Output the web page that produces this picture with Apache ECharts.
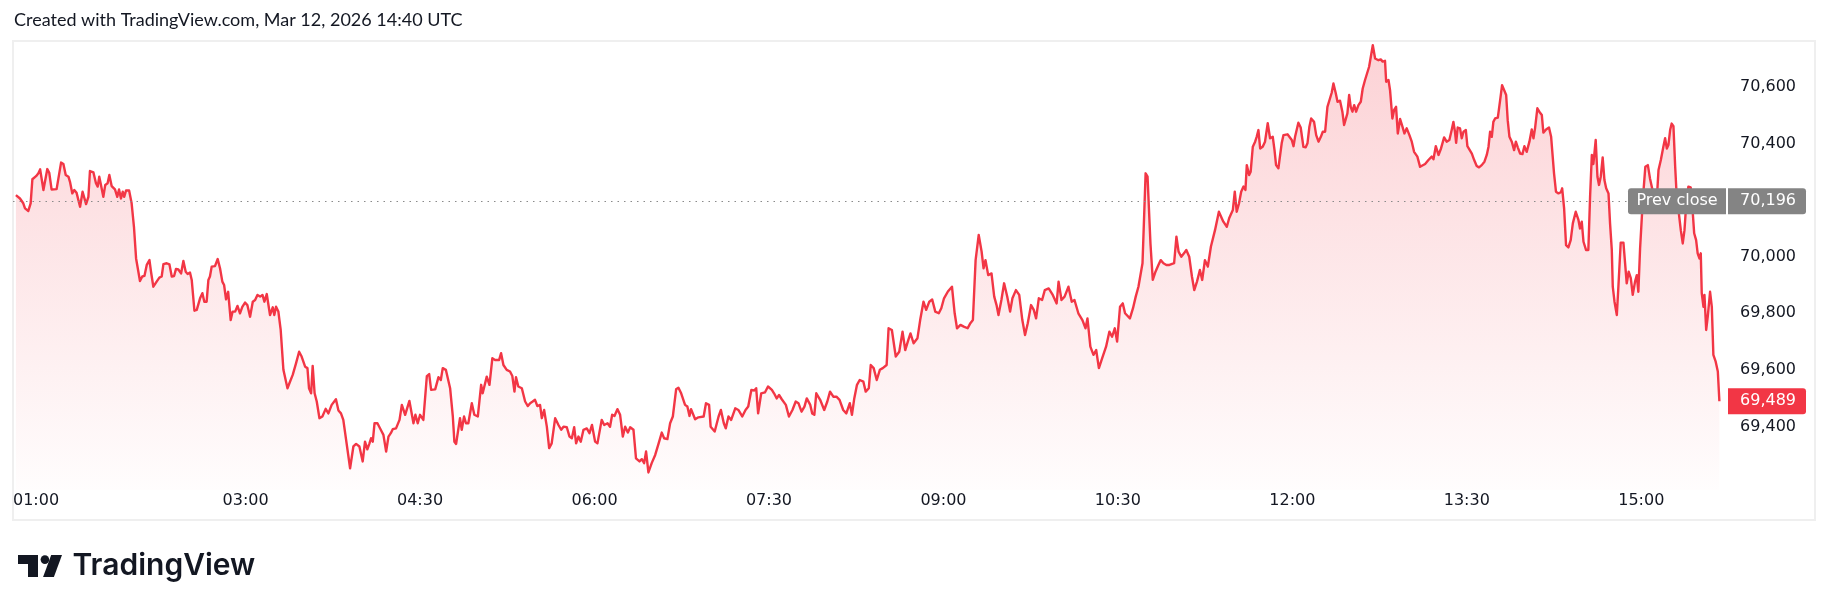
<!DOCTYPE html>
<html>
<head>
<meta charset="utf-8">
<script src="https://cdn.jsdelivr.net/npm/echarts@6/dist/echarts.min.js"></script>
<style>
html,body{margin:0;padding:0;background:#ffffff;}
#chart{width:1830px;height:611px;}
</style>
</head>
<body>
<div id="chart"></div>
<script>
// ---------- DATA ----------
const sessionStart = '01:00';           // x axis origin (minutes are counted from here)
const titleText = 'Created with TradingView.com, Mar 12, 2026 14:40 UTC';
const brandText = 'TradingView';
const prevCloseLabel = 'Prev close';
const prevClose = 70196;

// minutes after 01:00 / price, in segments
const minutesA = [1.5,3.6,5.3,6.2,7.9,9.1,10.0,11.9,13.1,14.0,15.7,16.5,17.7,18.7,19.9,22.5,24.8,26.0,27.2,28.6,29.4,30.6,31.6,32.8,34.6,35.9,37.7,38.9,39.7,41.5,42.8,43.7,44.5,45.2,46.6,47.6,48.8,49.7,50.9,52.6,53.8,54.7,55.7,56.6,57.4,58.3,59.9,61.2,62.4,63.5,64.2,65.5,66.7,67.8,69.0,70.4,71.2,72.4,74.1,75.5,76.7,77.6,79.3,80.7,81.9,83.1,84.1,85.3,86.7,87.9,89.1,90.1,91.3,92.2,93.6,94.8,96.5,97.7,98.7,99.9,100.8,101.6,102.5,104.2,105.6,106.8,108.0,108.9,109.9,111.0,112.3,113.3,114.6,115.8,117.1,118.3,119.7,120.9,122.3,123.7,124.9,126.1,127.5,128.7,129.7,130.9,132.6,134.0,134.8,135.7,136.9,138.1,139.5,141.6,142.9,144.3,146.0,147.6,148.9,150.7,151.9,152.7,153.8,154.6,155.6,156.7,158.1,159.6,161.3,162.7,164.4,166.6,167.9,169.2,170.4];
const pricesA = [70218,70206,70189,70171,70162,70189,70274,70285,70295,70309,70236,70242,70310,70297,70238,70239,70333,70328,70289,70283,70265,70224,70236,70226,70177,70230,70186,70212,70303,70298,70260,70248,70283,70260,70212,70254,70260,70289,70250,70238,70212,70238,70206,70230,70212,70234,70234,70189,70106,69994,69988,69914,69930,69932,69971,69988,69947,69894,69912,69926,69930,69974,69977,69973,69930,69932,69957,69955,69941,69985,69947,69939,69944,69918,69809,69812,69853,69871,69841,69841,69918,69930,69965,69967,69992,69959,69912,69900,69849,69876,69776,69806,69806,69826,69800,69823,69838,69829,69788,69841,69847,69865,69859,69865,69841,69868,69794,69821,69794,69823,69806,69741,69600,69535,69558,69582,69623,69664,69647,69611,69606,69535,69517,69614,69517,69488,69429,69435,69462,69446,69476,69496,69456,69446,69423];

const minutesB = [173.9,175.6,177.0,178.7,180.4,181.6,182.8,183.9,184.7,185.6,186.5,188.0,190.2,191.1,192.5,193.7,194.9,195.9,197.6,199.4,200.6,202.3,204.5,206.6,207.6,208.8,210.0,211.7,213.5,214.7,215.7,217.8,219.5,220.7,221.7,223.3,225.5,226.9,227.7,228.6,230.6,231.5,232.7,233.7,234.9,236.7,238.0,239.8,241.5,242.3,244.4,245.8,247.3,248.7,249.6,250.8,251.8,253.0,254.7,256.4,257.6,258.7,259.5,260.7,262.5,264.2,265.6,266.8,268.1,269.3,270.5,271.9,272.8,274.0,275.4,276.6,277.9,279.7,281.4,282.8,284.0,285.7,287.1,288.3,289.5,290.5,291.7,292.9,294.3,296.0,297.4,298.7,300.3,301.5,303.7,305.0,306.7,308.0,309.1,310.3,311.8,313.2,314.6,315.8,317.2,318.4,320.1,321.4,323.2,324.4,325.6,326.6,327.8,329.5,331.3,333.0,334.7,335.9,337.6,339.0,340.4,342.1,343.3,344.7,346.7,347.9,349.0,349.8,351.9,353.6];
const pricesB = [69252,69329,69338,69329,69276,69346,69319,69340,69358,69346,69411,69411,69382,69370,69311,69364,69376,69390,69393,69423,69476,69441,69490,69411,69441,69411,69441,69423,69578,69585,69529,69531,69574,69564,69606,69600,69535,69435,69346,69338,69429,69388,69435,69411,69411,69482,69441,69435,69547,69517,69576,69547,69641,69635,69641,69635,69659,69617,69600,69594,69578,69523,69574,69541,69535,69488,69472,69482,69488,69494,69472,69476,69429,69458,69399,69323,69340,69429,69405,69388,69399,69397,69364,69358,69397,69340,69364,69346,69388,69393,69376,69405,69346,69340,69423,69405,69411,69399,69441,69437,69461,69441,69364,69399,69378,69397,69388,69287,69276,69284,69270,69311,69237,69270,69299,69338,69378,69358,69355,69411,69435,69531,69537,69517,69476,69470,69437,69461,69425,69432];

const minutesC = [356.3,357.5,359.1,359.9,362.0,364.0,365.2,366.7,367.7,369.1,370.5,372.6,374.2,376.2,377.9,379.3,380.9,382.4,383.4,384.4,386.0,387.9,389.5,391.5,392.6,394.0,395.2,396.6,398.7,400.3,402.1,403.8,405.2,406.8,408.3,409.5,411.3,412.3,413.4,414.4,416.4,418.5,420.1,421.5,423.2,424.8,426.4,428.3,429.9,431.7,432.8,434.0,435.4,436.8,438.7,439.9,441.5,442.5,444.0,445.6,447.2,448.7,450.7,451.7,453.4,454.2,455.4,457.2,458.9,460.3,461.9,463.0,464.6,466.6,468.0,469.7,471.1,472.7,474.2,475.8,477.6,478.9,480.3,482.3,484.4,485.8,487.0,488.8,490.5,492.5,493.9,495.2,496.6,498.2,499.7,500.7,501.7,503.1,504.8,506.2,507.4,508.4,509.9,511.3,512.9,514.4,515.6,517.4,519.1,520.7,522.1,523.5,525.2,526.6,527.8,529.2,530.9,532.3,534.3,536.4,538.4,539.4,540.9,542.5,544.5,546.2,547.6,549.6,551.7,553.3,554.3,555.8,557.4,558.8,560.2,561.9,563.9,565.6,567.0,568.4,569.6,571.1,572.5,573.7,576.2,577.8,579.2,580.6,582.7,584.3,585.3,586.8,588.0,589.4,590.9,592.1,593.5,595.0,596.6,599.0,600.2,601.3,602.7,604.1,605.3,606.8,608.2,609.4,610.8,612.3,613.5,614.9,616.4,618.0,620.1,622.1];
const pricesC = [69435,69482,69476,69399,69382,69435,69458,69411,69393,69435,69423,69464,69458,69435,69458,69470,69529,69527,69535,69446,69517,69520,69541,69529,69517,69499,69511,69496,69476,69435,69458,69488,69482,69452,69470,69499,69476,69446,69441,69517,69494,69458,69488,69523,69505,69505,69494,69458,69446,69482,69441,69499,69547,69564,69558,69523,69535,69617,69606,69564,69600,69606,69617,69747,69741,69743,69647,69664,69735,69670,69706,69729,69694,69712,69776,69841,69812,69841,69849,69806,69800,69818,69853,69877,69894,69800,69747,69759,69753,69747,69765,69776,69988,70077,70018,69959,69988,69935,69941,69859,69829,69794,69847,69906,69859,69806,69853,69882,69865,69776,69723,69765,69829,69812,69782,69853,69847,69882,69888,69865,69835,69912,69847,69859,69894,69841,69847,69800,69776,69747,69782,69682,69653,69670,69606,69641,69682,69735,69717,69747,69700,69823,69835,69800,69782,69818,69859,69894,69977,70295,70283,70047,69918,69947,69971,69988,69977,69971,69971,69977,70071,70018,70000,70012,70024,70000,69930,69882,69912,69953,69918,69988,69965,70036,70094,70159];

const minutesD = [622.7,624.4,626.2,627.4,628.4,629.3,630.3,631.3,632.5,633.6,634.8,635.8,636.5,637.7,638.5,639.6,640.8,641.6,642.5,643.4,644.7,645.9,647.3,648.5,649.9,650.8,651.6,652.8,653.7,654.5,655.4,656.3,657.5,658.5,659.7,660.6,661.4,662.3,663.1,664.3,665.7,666.9,667.8,668.8,669.7,670.5,671.2,672.3,673.5,674.7,675.7,676.9,678.1,679.1,680.3,681.2,682.4,683.3,684.6,685.8,686.7,687.7,688.4,689.3,690.1,691.0,691.9,692.9,694.1,695.3,696.3,697.5,698.4,699.6];
const pricesD = [70153,70124,70106,70136,70130,70165,70230,70159,70189,70230,70248,70236,70324,70289,70301,70389,70407,70424,70448,70383,70389,70407,70472,70419,70424,70377,70324,70313,70318,70401,70430,70433,70433,70439,70413,70391,70424,70419,70474,70457,70389,70387,70401,70460,70489,70495,70477,70430,70407,70424,70442,70442,70530,70530,70580,70613,70578,70548,70552,70513,70466,70462,70507,70572,70530,70513,70536,70513,70536,70548,70595,70625,70631,70672];

const minutesE = [700.1,701.5,702.7,704.4,705.6,706.6,707.8,708.4,709.6,710.4,711.6,712.5,713.5,714.4,715.6,716.8,717.8,719.0,720.4,721.6,722.8,724.5,725.9,726.8,728.5,730.2,731.9,732.8,734.0,735.4,736.7,738.3,739.6,741.0,742.2,743.1,743.9,744.5,745.3,746.5,747.4,748.3,749.5,750.3,751.3,752.6,753.8,755.1,756.3,757.7,759.1,760.3,761.2,762.0,762.9,763.7,764.6,766.0,767.2,768.2,769.2,770.3,771.1,772.0,773.2,774.4,775.3,776.3,777.5,778.7,779.7,780.9,782.3,783.5,784.4,785.2,786.4,787.8,788.7,789.5,790.9,792.4,793.5,794.3,795.0,796.0,797.3,798.5,799.2,800.2,801.2,802.4,803.6,804.7,806.2,807.6,808.4,809.3,810.2,811.5,812.7,813.6,814.5,815.3,816.5,817.4,818.2,819.1,820.1,821.0,821.9,823.1,823.9,824.8,825.3,826.2,827.4,828.2,829.4,830.8,831.8,832.5,833.5,834.6,835.6,836.8,837.7,838.5,839.4,840.8,842.1,843.4,844.5,845.8,846.6,848.0,848.9,850.1,851.4,852.3,853.2,854.0,854.9,855.7,856.6,857.5,858.3,859.2,860.4,861.4,862.3,863.1,864.3,865.5,866.6,867.3,868.3,869.1,870.0,870.7,871.2,872.1,872.6,873.5,874.3,875.5,876.4,877.2,878.4,879.5,880.3];
const pricesE = [70678,70748,70701,70695,70698,70690,70693,70619,70625,70589,70489,70519,70530,70436,70487,70460,70436,70454,70430,70407,70371,70354,70318,70312,70328,70342,70354,70345,70391,70360,70383,70422,70407,70413,70448,70477,70442,70403,70457,70454,70419,70442,70448,70391,70387,70365,70342,70321,70316,70324,70336,70360,70389,70442,70424,70477,70489,70492,70554,70607,70611,70572,70483,70424,70407,70377,70407,70387,70365,70363,70391,70371,70407,70450,70419,70454,70525,70509,70501,70439,70450,70457,70424,70427,70295,70230,70224,70228,70242,70171,70041,70033,70059,70118,70159,70130,70100,70124,70053,70024,70024,70212,70360,70328,70413,70283,70254,70283,70351,70271,70242,70224,70118,70024,69894,69841,69794,69894,70050,70050,70047,69906,69947,69924,69865,69912,69935,69876,70030,70201,70318,70324,70277,70236,70195,70201,70307,70342,70389,70419,70383,70395,70448,70471,70462,70318,70212,70165,70094,70047,70094,70177,70248,70245,70153,70083,70059,70012,69994,70012,69871,69823,69865,69741,69788,69876,69823,69653,69629,69594,69489];

// axis ticks
const xTickMinutes = [0, 120, 210, 300, 390, 480, 570, 660, 750, 840];
const yTickValues = [69400, 69600, 69800, 70000, 70400, 70600];

// ---------- BUILD ----------
const minutes = [].concat(minutesA, minutesB, minutesC, minutesD, minutesE);
const prices = [].concat(pricesA, pricesB, pricesC, pricesD, pricesE);
const seriesData = minutes.map((m, i) => [m, prices[i]]);
const lastPrice = prices[prices.length - 1];

const startMin = parseInt(sessionStart.split(':')[0], 10) * 60 + parseInt(sessionStart.split(':')[1], 10);
function fmtTime(t) {
  const m = Math.round(startMin + t);
  const h = Math.floor(m / 60) % 24, mm = m % 60;
  return String(h).padStart(2, '0') + ':' + String(mm).padStart(2, '0');
}
const fmtPrice = v => Math.round(v).toLocaleString('en-US');

const RED = '#f23645';
const INK = '#131722';
const AXIS_FONT = 'DejaVu Sans';

const chart = echarts.init(document.getElementById('chart'), null, { renderer: 'canvas' });

chart.setOption({
  animation: false,
  backgroundColor: '#ffffff',
  grid: { left: 13, top: 41, width: 1712, height: 449, containLabel: false },
  xAxis: {
    type: 'value', min: 0, max: 883.2,
    axisLine: { show: false }, axisTick: { show: false }, splitLine: { show: false },
    axisLabel: {
      customValues: xTickMinutes,
      formatter: fmtTime,
      fontFamily: AXIS_FONT, fontSize: 16, color: INK,
      margin: 11, verticalAlign: 'middle', alignMinLabel: 'left'
    }
  },
  yAxis: {
    type: 'value', position: 'right', min: 69175, max: 70763, scale: true,
    axisLine: { show: false }, axisTick: { show: false }, splitLine: { show: false },
    axisLabel: {
      customValues: yTickValues,
      formatter: fmtPrice,
      fontFamily: AXIS_FONT, fontSize: 16, color: INK,
      align: 'right', margin: 71
    }
  },
  series: [{
    type: 'line',
    data: seriesData,
    showSymbol: false,
    symbol: 'none',
    sampling: null,
    lineStyle: { color: RED, width: 2.4, join: 'round' },
    itemStyle: { color: RED },
    areaStyle: {
      color: new echarts.graphic.LinearGradient(0, 0, 0, 1, [
        { offset: 0, color: 'rgba(242,54,69,0.32)' },
        { offset: 1, color: 'rgba(242,54,69,0.015)' }
      ])
    },
    markLine: {
      silent: true, symbol: 'none', animation: false,
      label: { show: false },
      lineStyle: { color: '#8a8a8a', type: [1.5, 5], width: 1 },
      data: [{ yAxis: prevClose }]
    }
  }]
});

// price tags and frame (positions of the tags come from the y axis)
const yPrev = chart.convertToPixel({ yAxisIndex: 0 }, prevClose);
const yLast = chart.convertToPixel({ yAxisIndex: 0 }, lastPrice);
const TAG_H = 26;
const labelFont = '16px "DejaVu Sans"';

chart.setOption({
  graphic: [
    { type: 'text', left: 14, top: 11, z: 10,
      style: { text: titleText, font: '18px Lato', fill: INK } },
    { type: 'rect', z: 0, silent: true,
      shape: { x: 13, y: 41, width: 1802, height: 479 },
      style: { fill: 'none', stroke: '#efefef', lineWidth: 2 } },
    // prev close tag
    { type: 'rect', z: 20, shape: { x: 1628, y: yPrev - TAG_H / 2, width: 98, height: TAG_H, r: [3, 0, 0, 3] },
      style: { fill: '#848484' } },
    { type: 'text', z: 21, x: 1677, y: yPrev,
      style: { text: prevCloseLabel, font: labelFont, fill: '#ffffff', align: 'center', verticalAlign: 'middle' } },
    { type: 'rect', z: 20, shape: { x: 1728, y: yPrev - TAG_H / 2, width: 78, height: TAG_H, r: [0, 3, 3, 0] },
      style: { fill: '#848484' } },
    { type: 'text', z: 21, x: 1796, y: yPrev,
      style: { text: fmtPrice(prevClose), font: labelFont, fill: '#ffffff', align: 'right', verticalAlign: 'middle' } },
    // last price tag
    { type: 'rect', z: 20, shape: { x: 1728, y: yLast - TAG_H / 2, width: 78, height: TAG_H, r: [0, 3, 3, 0] },
      style: { fill: RED } },
    { type: 'text', z: 21, x: 1796, y: yLast,
      style: { text: fmtPrice(lastPrice), font: labelFont, fill: '#ffffff', align: 'right', verticalAlign: 'middle' } },
    // TradingView brand
    { type: 'rect', z: 10, shape: { x: 18, y: 555, width: 20, height: 9 }, style: { fill: INK } },
    { type: 'rect', z: 10, shape: { x: 28, y: 555, width: 10, height: 22 }, style: { fill: INK } },
    { type: 'circle', z: 10, shape: { cx: 44.9, cy: 559.6, r: 4.3 }, style: { fill: INK } },
    { type: 'polygon', z: 10, shape: { points: [[51.2, 555], [62, 555], [53.9, 577], [43.1, 577]] }, style: { fill: INK } },
    { type: 'text', z: 10, x: 72.5, y: 566,
      style: { text: brandText, font: '600 30px Inter', fill: INK, verticalAlign: 'middle' } }
  ]
});
</script>
</body>
</html>
